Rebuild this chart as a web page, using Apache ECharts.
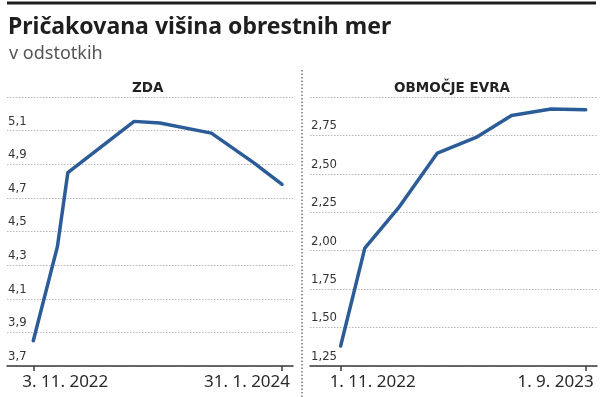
<!DOCTYPE html>
<html>
<head>
	<meta http-equiv="Content-Type" content="text/html;charset=utf-8">
	<title>Pričakovana višina obrestnih mer</title>
	<style>
		html, body{
			margin: 0;
			padding: 0;
			background: #fff;
		}
		#chart{
			width: 600px;
			height: 397px;
		}
	</style>
</head>
<body>
<div id="chart"></div>

<script src="https://cdn.jsdelivr.net/npm/echarts@6/dist/echarts.min.js"></script>
<script>
	// ZDA
	var datesUS = ['2022-11-03', '2022-12-17', '2023-01-05', '2023-05-06', '2023-06-22', '2023-09-24', '2023-12-10', '2024-01-31'];
	var valuesUS = [3.85, 4.41, 4.85, 5.155, 5.145, 5.085, 4.91, 4.78];
	var ticksUS = ['2022-11-03', '2024-01-31'];

	// Območje evra
	var datesEA = ['2022-11-01', '2022-12-01', '2023-01-13', '2023-03-01', '2023-04-18', '2023-06-01', '2023-07-20', '2023-09-01'];
	var valuesEA = [1.38, 2.017, 2.287, 2.635, 2.737, 2.88, 2.922, 2.917];
	var ticksEA = ['2022-11-01', '2023-09-01'];

	var lineColor = '#2b5c97';
	var narrowFont = "'Liberation Sans Narrow', 'DejaVu Sans Condensed', sans-serif";

	// dates as day numbers (UTC), so the x axis can be a plain value axis
	function ts(s){
		var p = s.split('-');
		return Date.UTC(+p[0], +p[1] - 1, +p[2]) / 86400000;
	}

	function pairs(dates, values){
		return dates.map(function (d, i){
			return [ts(d), values[i]];
		});
	}

	function dateLabel(v){
		var d = new Date(Math.round(v) * 86400000);
		return d.getUTCDate() + '. ' + (d.getUTCMonth() + 1) + '. ' + d.getUTCFullYear();
	}

	function xAxisFor(gridIndex, min, max, ticks){
		return {
			type: 'value',
			gridIndex: gridIndex,
			min: ts(min),
			max: ts(max),
			splitLine: {show: false},
			axisLine: {lineStyle: {color: '#3a3a3a', width: 1.5}},
			axisTick: {
				show: true,
				length: 5,
				customValues: ticks.map(ts),
				lineStyle: {color: '#3a3a3a', width: 1.5}
			},
			axisLabel: {
				customValues: ticks.map(ts),
				formatter: dateLabel,
				color: '#2a2a2a',
				fontFamily: 'Noto Sans',
				fontSize: 17,
				margin: 8,
				alignMinLabel: 'left',
				alignMaxLabel: 'right',
				padding: [0, -8, 0, -11]
			}
		};
	}

	function yAxisFor(gridIndex, min, max, interval, digits){
		return {
			type: 'value',
			gridIndex: gridIndex,
			min: min,
			max: max,
			interval: interval,
			axisLine: {show: false},
			axisTick: {show: false},
			splitLine: {
				show: true,
				lineStyle: {color: '#b8b8b8', type: [1.5, 1.5], width: 1}
			},
			axisLabel: {
				inside: true,
				showMaxLabel: false,
				margin: 1,
				verticalAlign: 'bottom',
				padding: [0, 0, 3, 0],
				color: '#333',
				fontFamily: narrowFont,
				fontSize: 13,
				formatter: function (v){
					return v.toFixed(digits).replace('.', ',');
				}
			}
		};
	}

	function lineSeries(idx, data){
		return {
			type: 'line',
			xAxisIndex: idx,
			yAxisIndex: idx,
			data: data,
			showSymbol: false,
			symbol: 'none',
			silent: true,
			lineStyle: {color: lineColor, width: 3.5, join: 'round', cap: 'round'}
		};
	}

	var option = {
		animation: false,
		backgroundColor: '#fff',
		title: [
			{
				text: 'Pričakovana višina obrestnih mer',
				left: 3,
				top: 11,
				textStyle: {fontFamily: 'Noto Sans', fontWeight: 'bold', fontSize: 23, color: '#1e1e1e'}
			},
			{
				text: 'v odstotkih',
				left: 4,
				top: 40,
				textStyle: {fontFamily: 'Noto Sans', fontWeight: 'normal', fontSize: 18, color: '#555'}
			},
			{
				text: 'ZDA',
				left: 127,
				top: 76,
				textStyle: {fontFamily: 'DejaVu Sans', fontWeight: 'bold', fontSize: 13.5, color: '#222'}
			},
			{
				text: 'OBMOČJE EVRA',
				left: 389,
				top: 76,
				textStyle: {fontFamily: 'DejaVu Sans', fontWeight: 'bold', fontSize: 13.5, color: '#222'}
			}
		],
		graphic: [
			{
				type: 'rect',
				shape: {x: 7, y: 1.5, width: 589, height: 3},
				style: {fill: '#1e1e1e'}
			},
			{
				type: 'line',
				shape: {x1: 302, y1: 70, x2: 302, y2: 397},
				style: {stroke: '#777', lineWidth: 1.5, lineDash: [1.5, 2]}
			}
		],
		grid: [
			{left: 7, right: 307, top: 97, bottom: 31},
			{left: 310, right: 3, top: 97, bottom: 31}
		],
		xAxis: [
			xAxisFor(0, '2022-09-16', '2024-02-20', ticksUS),
			xAxisFor(1, '2022-09-24', '2023-09-15', ticksEA)
		],
		yAxis: [
			yAxisFor(0, 3.7, 5.3, 0.2, 1),
			yAxisFor(1, 1.25, 3.0, 0.25, 2)
		],
		series: [
			lineSeries(0, pairs(datesUS, valuesUS)),
			lineSeries(1, pairs(datesEA, valuesEA))
		]
	};

	var myChart = echarts.init(document.getElementById('chart'), null, {renderer: 'canvas'});
	myChart.setOption(option);
</script>
</body>
</html>
